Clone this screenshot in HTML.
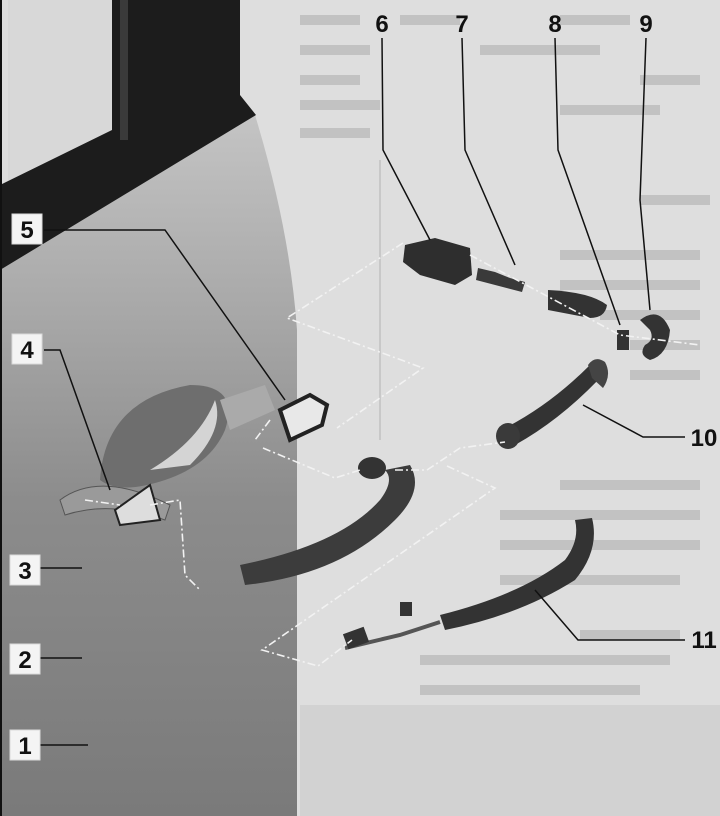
<!DOCTYPE html>
<html><head><meta charset="utf-8"><style>
html,body{margin:0;padding:0;background:#dcdcdc;}
svg{display:block}
text{font-family:"Liberation Sans",sans-serif;font-weight:bold;}
</style></head><body>
<svg width="720" height="816" viewBox="0 0 720 816" xmlns="http://www.w3.org/2000/svg">
<defs>
<linearGradient id="door" x1="0" y1="0" x2="0" y2="1">
<stop offset="0" stop-color="#c4c4c4"/><stop offset="0.3" stop-color="#a6a6a6"/><stop offset="0.55" stop-color="#8c8c8c"/><stop offset="1" stop-color="#7a7a7a"/>
</linearGradient>
</defs>
<rect width="720" height="816" fill="#dedede"/>
<!-- faint page text -->
<g fill="#c2c2c2">
<rect x="300" y="15" width="60" height="10"/><rect x="400" y="15" width="60" height="10"/><rect x="560" y="15" width="70" height="10"/>
<rect x="300" y="45" width="70" height="10"/><rect x="480" y="45" width="120" height="10"/>
<rect x="300" y="75" width="60" height="10"/><rect x="640" y="75" width="60" height="10"/>
<rect x="300" y="100" width="80" height="10"/><rect x="560" y="105" width="100" height="10"/>
<rect x="300" y="128" width="70" height="10"/>
<rect x="640" y="195" width="70" height="10"/>
<rect x="560" y="250" width="140" height="10"/><rect x="560" y="280" width="140" height="10"/>
<rect x="600" y="310" width="100" height="10"/><rect x="630" y="340" width="70" height="10"/>
<rect x="630" y="370" width="70" height="10"/>
<rect x="560" y="480" width="140" height="10"/><rect x="500" y="510" width="200" height="10"/>
<rect x="500" y="540" width="200" height="10"/><rect x="500" y="575" width="180" height="10"/>
<rect x="580" y="630" width="100" height="10"/><rect x="420" y="655" width="250" height="10"/>
<rect x="420" y="685" width="220" height="10"/>
</g>
<rect x="300" y="705" width="420" height="111" fill="#d2d2d2"/>
<line x1="380" y1="160" x2="380" y2="440" stroke="#c8c8c8" stroke-width="2"/>
<!-- door panel -->
<path d="M0 260 L255 115 Q290 230 297 330 L297 816 L0 816 Z" fill="url(#door)"/>
<!-- window -->
<rect x="8" y="0" width="104" height="190" fill="#d8d8d8"/>
<path d="M112 0 L240 0 L240 95 L256 115 L0 270 L0 185 L112 130 Z" fill="#1c1c1c"/>
<rect x="120" y="0" width="8" height="140" fill="#3a3a3a"/>
<rect x="0" y="0" width="2" height="816" fill="#111"/>
<!-- handle recess -->
<path d="M60 500 Q100 470 170 505 L165 520 Q110 500 65 515Z" fill="#9a9a9a" stroke="#555"/>
<path d="M100 480 Q105 400 190 385 Q240 385 225 430 Q210 465 165 480 Q120 495 100 480Z" fill="#6e6e6e"/>
<path d="M150 470 Q200 440 215 400 Q225 430 190 465Z" fill="#d4d4d4"/>
<path d="M115 510 L150 485 L160 520 L120 525Z" fill="#ddd" stroke="#222" stroke-width="2"/>
<path d="M220 400 L265 385 L275 410 L230 430Z" fill="#aaa"/>
<!-- part 5 -->
<path d="M280 410 L310 395 L327 405 L322 425 L290 440 Z" fill="#e8e8e8" stroke="#222" stroke-width="4"/>
<!-- main handle -->
<path d="M240 565 Q340 545 380 500 Q395 480 385 470 L410 465 Q425 490 395 520 Q340 575 245 585 Z" fill="#3c3c3c"/>
<ellipse cx="372" cy="468" rx="14" ry="11" fill="#333"/>
<!-- part 6 -->
<path d="M405 245 L435 238 L470 248 L472 275 L455 285 L420 275 L403 262Z" fill="#2e2e2e"/>
<!-- 7 -->
<path d="M478 268 L495 272 L510 278 L525 282 L522 292 L476 280Z" fill="#3a3a3a"/>
<path d="M548 290 Q590 292 607 305 Q605 318 590 318 L548 310Z" fill="#333"/>
<!-- 8 -->
<rect x="617" y="330" width="12" height="20" fill="#333"/>
<!-- 9 -->
<path d="M640 320 Q660 305 670 330 Q668 355 650 360 Q638 355 645 345 Q655 340 650 330Z" fill="#333"/>
<!-- 10 handle -->
<path d="M505 428 Q550 405 590 365 L600 378 Q560 420 515 445Z" fill="#333"/>
<ellipse cx="508" cy="436" rx="12" ry="13" fill="#3a3a3a"/>
<path d="M588 365 Q595 355 605 362 Q612 375 603 388 L592 378Z" fill="#444"/>
<!-- 11 handle -->
<path d="M440 615 Q520 595 565 560 Q580 540 575 520 L592 518 Q600 550 575 580 Q520 615 445 630Z" fill="#333"/>
<path d="M345 648 L400 635 L440 622" stroke="#555" stroke-width="4" fill="none"/>
<rect x="345" y="630" width="22" height="16" fill="#333" transform="rotate(-20 356 638)"/>
<rect x="400" y="602" width="12" height="14" fill="#333"/>
<!-- dashed lines -->
<g stroke="#f2f2f2" stroke-width="1.6" fill="none" stroke-dasharray="8 3 2 3">
<path d="M403 243 L287 318 L423 368 L337 428"/>
<path d="M470 255 L620 335 L700 345"/>
<path d="M263 448 L335 478 L360 470"/>
<path d="M395 470 L427 470 L460 448 L505 442"/>
<path d="M447 466 L495 488 L262 650 L318 666 L352 640"/>
<path d="M85 500 L120 505 M150 505 L180 500 L185 575 L200 590"/>
<path d="M270 420 L255 440"/>
</g>
<!-- leader lines -->
<g stroke="#111" stroke-width="1.5" fill="none">
<path d="M44 230 L165 230 L285 400"/>
<path d="M44 350 L60 350 L110 490"/>
<path d="M40 568 L82 568"/>
<path d="M40 658 L82 658"/>
<path d="M40 745 L88 745"/>
<path d="M382 38 L383 150 L430 240"/>
<path d="M462 38 L465 150 L515 265"/>
<path d="M555 38 L558 150 L620 325"/>
<path d="M646 38 L640 200 L650 310"/>
<path d="M685 437 L643 437 L583 405"/>
<path d="M685 640 L578 640 L535 590"/>
</g>
<!-- labels -->
<g fill="#f4f4f4" stroke="#dadada" stroke-width="1">
<rect x="12" y="214" width="30" height="30"/>
<rect x="12" y="334" width="30" height="30"/>
<rect x="10" y="555" width="30" height="30"/>
<rect x="10" y="644" width="30" height="30"/>
<rect x="10" y="730" width="30" height="30"/>
</g>
<g font-size="24" fill="#111" text-anchor="middle">
<text x="27" y="238">5</text><text x="27" y="358">4</text>
<text x="25" y="579">3</text><text x="25" y="668">2</text><text x="25" y="754">1</text>
<text x="382" y="32">6</text><text x="462" y="32">7</text><text x="555" y="32">8</text><text x="646" y="32">9</text>
<text x="704" y="446">10</text><text x="704" y="648">11</text>
</g>
</svg>
</body></html>
